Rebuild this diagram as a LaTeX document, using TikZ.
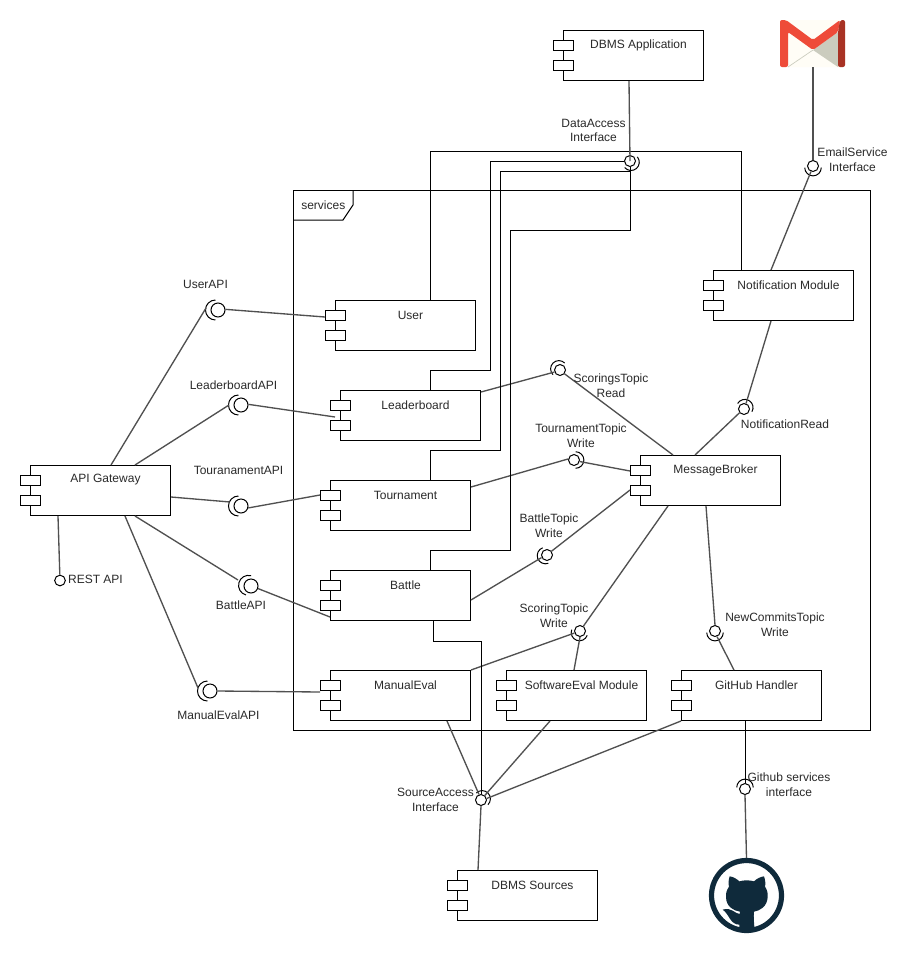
\documentclass[tikz,border=0pt]{standalone}
\usepackage{fontspec}
\setmainfont{Liberation Sans}
\definecolor{wire}{HTML}{505050}
\definecolor{labelc}{HTML}{2A2A2A}
\definecolor{octo}{HTML}{0F2A3B}
\definecolor{gmailbg}{HTML}{FFFDF6}
\definecolor{gmailgrey}{HTML}{CBCCBE}
\definecolor{gmailred}{HTML}{EE4B39}
\definecolor{gmaildark}{HTML}{A83224}
\tikzset{
  body/.style={draw=black,line width=.75pt,fill=white,rectangle,minimum width=105pt,minimum height=37.5pt,inner sep=0pt,anchor=north west},
  port/.style={draw=black,line width=.75pt,fill=white,rectangle,minimum width=15pt,minimum height=7.5pt,inner sep=0pt},
  title/.style={font=\fontsize{9pt}{10.8pt}\selectfont,text=labelc,inner sep=0pt,align=center},
  lbl/.style={font=\fontsize{9pt}{11pt}\selectfont,text=labelc,inner sep=0pt,align=center},
  lolli/.style={draw=black,line width=.75pt,fill=white,circle,inner sep=0pt},
  wirel/.style={draw=wire,line width=1pt},
  ortho/.style={draw=black,line width=.75pt},
  arcl/.style={draw=black,line width=.75pt},
}
% \comp{name}{body x}{body y}{title}
\newcommand\comp[4]{%
  \node[body] (#1) at (#2,#3) {};
  \node[port] (#1p) at (#2,#3+15) {};
  \node[port] (#1q) at (#2,#3+35) {};
  \node[title] (#1t) at (#2+75.5,#3+15) {#4};
}
% \iface{name}{x}{y}{mid angle}: large socket
\newcommand\iface[4]{%
  \node[lolli,minimum size=10.5pt] (#1) at (#2,#3) {};
  \draw[arcl] ([shift={(#4:1.9pt)}]#1.center) ++(#4-90:7.5pt) arc[start angle=#4-90,end angle=#4+90,radius=7.5pt];
}
% \ifacs{name}{x}{y}{mid angle}: small socket
\newcommand\ifacs[4]{%
  \node[lolli,minimum size=8.25pt] (#1) at (#2,#3) {};
  \draw[arcl] ([shift={(#4:1.2pt)}]#1.center) ++(#4-90:6.2pt) arc[start angle=#4-90,end angle=#4+90,radius=6.2pt];
}
\begin{document}
\begin{tikzpicture}[x=.75pt,y=-.75pt]
\useasboundingbox (0,0) rectangle (918,954);
\fill[white] (0,0) rectangle (918,954);
% frame
\coordinate (fr) at (293,190);
\coordinate (fb) at (870,730);
\draw[ortho] (fr) rectangle (fb);
\draw[ortho] (293,220) -- (343,220) -- (353,205) -- (353,190);
\node[title,anchor=west] (svc) at (301,205) {services};
% components
\comp{app}{563}{30}{DBMS Application}
\comp{user}{335}{300}{User}
\comp{lead}{340}{390}{Leaderboard}
\comp{tour}{330}{480}{Tournament}
\comp{batt}{330}{570}{Battle}
\comp{manu}{330}{670}{ManualEval}
\comp{soft}{506}{670}{SoftwareEval Module}
\comp{ghub}{681}{670}{GitHub Handler}
\comp{brok}{640}{455}{MessageBroker}
\comp{noti}{713}{270}{Notification Module}
\comp{gate}{30}{465}{API Gateway}
\comp{srcs}{457}{870}{DBMS Sources}
% interfaces
\iface{iUser}{218}{310}{180}
\iface{iLead}{241}{405}{180}
\iface{iTour}{241}{506}{180}
\iface{iBatt}{251}{586}{165}
\iface{iManu}{210}{691}{180}
\node[lolli,minimum size=8pt] (iRest) at (60,580.5) {};
\ifacs{iRead}{560}{370}{135}
\ifacs{iTTop}{574}{460}{0}
\ifacs{iBTop}{547}{555}{200}
\ifacs{iSTop}{580}{631}{250}
\ifacs{iCTop}{715}{631}{270}
\ifacs{iNoti}{744}{409}{60}
\ifacs{iMail}{813}{166}{270}
\ifacs{iData}{630}{161}{310}
\ifacs{iSrc}{481}{800}{45}
\ifacs{iGit}{745}{789}{90}
% straight connectors
\draw[wirel] ([shift={(81,0)}]gate.north west) -- ([shift={(-12,-2)}]iUser.center);
\draw[wirel] (iUser.5) -- ([shift={(-10,17)}]user.north west);
\draw[wirel] ([shift={(105,0)}]gate.north west) -- ([shift={(-12,0)}]iLead.center);
\draw[wirel] (iLead.5) -- ([shift={(-5,27)}]lead.north west);
\draw[wirel] ([shift={(0,32)}]gate.north east) -- ([shift={(-11,-4)}]iTour.center);
\draw[wirel] (iTour.-15) -- ([shift={(-10,15)}]tour.north west);
\draw[wirel] ([shift={(105,0)}]gate.south west) -- ([shift={(-13,-6)}]iBatt.center);
\draw[wirel] (iBatt.-20) -- ([shift={(0,-4)}]batt.south west);
\draw[wirel] ([shift={(95,0)}]gate.south west) -- ([shift={(-12,-3)}]iManu.center);
\draw[wirel] (iManu.0) -- ([shift={(-10,22)}]manu.north west);
\draw[wirel] ([shift={(28,0)}]gate.south west) -- (iRest);
\draw[wirel] (lead.north east) ++(0,2) -- (iRead.200);
\draw[wirel] (iRead.-40) -- ([shift={(33,0)}]brok.north west);
\draw[wirel] ([shift={(0,7)}]tour.north east) -- (iTTop.170);
\draw[wirel] (iTTop.-15) -- ([shift={(-10,16)}]brok.north west);
\draw[wirel] (batt.north east) ++(0,30) -- (iBTop.205);
\draw[wirel] (iBTop.40) -- ([shift={(-10,35)}]brok.north west);
\draw[wirel] (manu.north east) -- (iSTop.200);
\draw[wirel] (iSTop.55) -- ([shift={(28,0)}]brok.south west);
\draw[wirel] (iSTop.-90) -- ([shift={(68,0)}]soft.north west);
\draw[wirel] ([shift={(66,0)}]brok.south west) -- (iCTop.90);
\draw[wirel] (iCTop.-70) -- ([shift={(53,0)}]ghub.north west);
\draw[wirel] ([shift={(58,0)}]noti.south west) -- (iNoti.70);
\draw[wirel] (iNoti.220) -- ([shift={(55,0)}]brok.north west);
\draw[wirel] (iMail.-110) -- ([shift={(58,0)}]noti.north west);
\draw[wirel] ([shift={(117,0)}]manu.south west) -- (iSrc.110);
\draw[wirel] ([shift={(44,0)}]soft.south west) -- (iSrc.50);
\draw[wirel] (ghub.south west) -- (iSrc.15);
\draw[wirel] (iSrc.-90) -- ([shift={(21,0)}]srcs.north west);
\draw[ortho] ([shift={(64,0)}]ghub.south west) -- (iGit.90);
% orthogonal connectors
\draw[ortho] ([shift={(95,0)}]user.north west) |- (741,151) -- ([shift={(28,0)}]noti.north west);
\draw[ortho] ([shift={(90,0)}]lead.north west) -- ++(0,-20) -| (490,161) -- (iData.180);
\draw[ortho] ([shift={(100,0)}]tour.north west) -- ++(0,-30) -| (500,171) -- (630,171) -- (iData.-90);
\draw[ortho] ([shift={(100,0)}]batt.north west) -- ++(0,-20) -| (510,230) -| (iData.-90);
\draw[ortho] ([shift={(103,0)}]batt.south west) -- ++(0,20) -| (iSrc.90);
\draw[wirel] ([shift={(66,0)}]app.south west) -- (iData.center);
% labels
\node[lbl] (lUser) at (205.5,284.5) {UserAPI};
\node[lbl] (lLead) at (233.5,385) {LeaderboardAPI};
\node[lbl] (lTour) at (238.5,470) {TouranamentAPI};
\node[lbl] (lBatt) at (241,605) {BattleAPI};
\node[lbl] (lManu) at (218.5,715) {ManualEvalAPI};
\node[lbl] (lRest) at (95.5,579.5) {REST API};
\node[lbl] (lData) at (593.5,130.5) {DataAccess\\Interface};
\node[lbl] (lMail) at (852.5,160) {EmailService\\Interface};
\node[lbl] (lRead) at (611,385.5) {ScoringsTopic\\Read};
\node[lbl] (lNoti) at (785,424.5) {NotificationRead};
\node[lbl] (lTTop) at (581,435.5) {TournamentTopic\\Write};
\node[lbl] (lBTop) at (549,526) {BattleTopic\\Write};
\node[lbl] (lSTop) at (554,615.5) {ScoringTopic\\Write};
\node[lbl] (lCTop) at (775,625) {NewCommitsTopic\\Write};
\node[lbl] (lSrc) at (435.5,800) {SourceAccess\\Interface};
\node[lbl] (lGit) at (789,785) {Github services\\interface};
% Gmail logo
\fill[rounded corners=2pt,gmailbg] (780,20) rectangle (845,67);
\fill[gmailgrey] (813,50) -- (838,32) -- (838,67) -- cycle;
\draw[gmailgrey,line width=.5pt] (813,50) -- (788,67);
\fill[rounded corners=1.5pt,gmailred] (780,67) -- (780,20) -- (786,20) -- (813,40) -- (840,20) -- (838,32) -- (813,50) -- (788,32) -- (788,67) -- cycle;
\fill[rounded corners=1.5pt,gmaildark] (838,67) -- (838,32) -- (840,20) -- (845,20) -- (845,67) -- cycle;
\coordinate (mailTop) at (813,67);
\draw[wirel] (mailTop) -- (iMail.90);
% GitHub logo
\node[draw=octo,line width=3.9pt,circle,minimum size=52.5pt,inner sep=0pt] (octoRing) at (746.5,895.5) {};
\draw[wirel] (iGit.-90) -- (octoRing.north);
\begin{scope}[shift={(680,760)},x=.25pt,y=-.25pt]
  \fill[octo] (149,349) .. controls (160,350) and (172,358) .. (178,364)
    .. controls (190,360) and (210,360) .. (222,364)
    .. controls (230,356) and (242,350) .. (252,349)
    .. controls (256,360) and (257,372) .. (255,380)
    .. controls (262,390) and (264,400) .. (263,412)
    .. controls (261,440) and (240,452) .. (222,455)
    .. controls (220,470) and (222,490) .. (224,510)
    .. controls (210,515) and (190,515) .. (178,510)
    .. controls (178,500) and (178,495) .. (178,494)
    .. controls (150,494) and (148,462) .. (128,449)
    .. controls (155,440) and (165,462) .. (179,462)
    .. controls (179,461) and (180,458) .. (180,455)
    .. controls (160,452) and (139,440) .. (138,412)
    .. controls (137,400) and (140,390) .. (147,380)
    .. controls (145,372) and (145,360) .. (149,349) -- cycle;
\end{scope}
\end{tikzpicture}
\end{document}
